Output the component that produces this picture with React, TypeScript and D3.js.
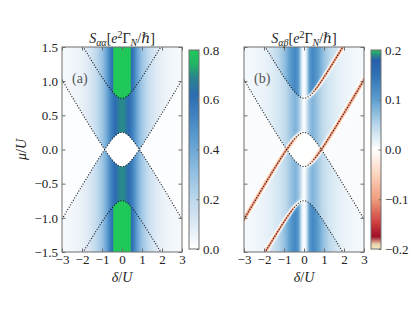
import React, { useEffect, useRef } from "react";
import * as d3 from "d3";

const deltaTicks = [-3, -2, -1, 0, 1, 2, 3];
const muTicks = [-1.5, -1.0, -0.5, 0.0, 0.5, 1.0, 1.5];
const saaTicks = [0.0, 0.2, 0.4, 0.6, 0.8];
const sabTicks = [-0.2, -0.1, 0.0, 0.1, 0.2];

// level lines: mu = shift + branch * sqrt((delta/2)^2 + gap^2)
const levelShifts = [0.5, -0.5];
const levelBranches = [1, -1];
const levelGap = 0.25;

// profiles read across |delta| for each region
const profileDelta = [0, 0.1, 0.2, 0.3, 0.42, 0.45, 0.6, 0.8, 1.0, 1.3, 1.6, 2.0, 2.5, 3.0];
const saaInside = [1.0, 1.0, 0.98, 0.95, 0.9, 0.63, 0.55, 0.4, 0.29, 0.19, 0.12, 0.075, 0.045, 0.03];
const saaBetween = [0.7, 0.69, 0.66, 0.62, 0.6, 0.58, 0.5, 0.37, 0.27, 0.17, 0.11, 0.065, 0.04, 0.025];
const saaOutside = 0.01;
const sabInside = [0.0, 0.02, 0.07, 0.11, 0.125, 0.125, 0.113, 0.09, 0.068, 0.047, 0.033, 0.022, 0.014, 0.01];
const sabBetween = [0.0, 0.02, 0.05, 0.07, 0.08, 0.08, 0.07, 0.055, 0.042, 0.03, 0.022, 0.015, 0.01, 0.007];
const sabOutside = 0.004;
const sabLineDip = -0.115;

const saaStops = [0, 0.1, 0.2, 0.3, 0.4, 0.5, 0.62, 0.69, 0.74, 0.8];
const saaColors = ["#ffffff", "#dde9f4", "#bcd7ec", "#96c1e2", "#6ea8d6", "#4a8dc6", "#2c6db2", "#2a848f", "#22b266", "#20c85a"];
const sabStops = [-0.2, -0.19, -0.175, -0.15, -0.1, -0.05, 0, 0.05, 0.1, 0.15, 0.18, 0.19, 0.2];
const sabColors = ["#f2ebc4", "#e8cfa8", "#a0102a", "#cc3a3c", "#f09c7c", "#fbd5bf", "#ffffff", "#b8d6ea", "#5e9fd0", "#2f72b4", "#2660aa", "#2a8a86", "#22c55e"];

const PW = 120, PH = 205, TOP = 47;
const panels = [
  { key: "a", left: 62, label: "(a)", sub: "αα", ticks: saaTicks, domain: [0, 0.8] },
  { key: "b", left: 244, label: "(b)", sub: "αβ", ticks: sabTicks, domain: [-0.2, 0.2] },
];

const xs = d3.scaleLinear().domain([-3, 3]).range([0, PW]);
const ys = d3.scaleLinear().domain([-1.5, 1.5]).range([PH, 0]);

const prof = (vals: number[]) => d3.scaleLinear().domain(profileDelta).range(vals).clamp(true);
const pSaaIn = prof(saaInside), pSaaBet = prof(saaBetween);
const pSabIn = prof(sabInside), pSabBet = prof(sabBetween);

const shift = levelShifts[0];
const root = (d: number) => Math.sqrt((d / 2) ** 2 + levelGap ** 2);
const region = (d: number, mu: number) => {
  const s = root(d), m = Math.abs(mu);
  if (m > shift + s) return 0;
  if (m > Math.abs(s - shift)) return 1;
  return s < shift ? 3 : 2;
};

const saaValue = (d: number, mu: number) => {
  const r = region(d, mu), a = Math.abs(d);
  if (r === 0) return pSaaIn(a);
  if (r === 1) return pSaaBet(a);
  return r === 2 ? saaOutside : 0;
};

const pxMu = PH / 3, pxDelta = PW / 6;
const sabValue = (d: number, mu: number) => {
  const r = region(d, mu), a = Math.abs(d);
  const v = r === 0 ? pSabIn(a) : r === 1 ? pSabBet(a) : r === 2 ? sabOutside : 0;
  const s = root(d);
  let g = 0;
  levelShifts.forEach((sh) => levelBranches.forEach((b) => {
    if (b * d <= 0) return;
    const mb = sh + b * s;
    const slope = ((b * d) / (4 * s)) * (pxMu / pxDelta);
    const dist = (Math.abs(mu - mb) * pxMu) / Math.sqrt(1 + slope * slope);
    const fade = Math.min(1, a / 0.6);
    g = Math.max(g, fade * Math.exp(-(dist * dist) / (2 * 1.2 * 1.2)));
  }));
  return v * (1 - g) + sabLineDip * g;
};

function fieldImage(value: (d: number, mu: number) => number, stops: number[], colors: string[]) {
  const cs = d3.scaleLinear<string>().domain(stops).range(colors).clamp(true);
  const lo = stops[0], hi = stops[stops.length - 1];
  const lut = d3.range(512).map((i) => d3.rgb(cs(lo + ((hi - lo) * i) / 511)));
  const canvas = document.createElement("canvas");
  canvas.width = PW; canvas.height = PH;
  const ctx = canvas.getContext("2d")!;
  const img = ctx.createImageData(PW, PH);
  const n = 3;
  for (let j = 0; j < PH; j++) {
    for (let i = 0; i < PW; i++) {
      let r = 0, g = 0, b = 0;
      for (let u = 0; u < n; u++) for (let w = 0; w < n; w++) {
        const v = value(xs.invert(i + (u + 0.5) / n), ys.invert(j + (w + 0.5) / n));
        const k = Math.max(0, Math.min(511, Math.round(((v - lo) / (hi - lo)) * 511)));
        r += lut[k].r; g += lut[k].g; b += lut[k].b;
      }
      const o = (j * PW + i) * 4;
      img.data[o] = r / (n * n); img.data[o + 1] = g / (n * n); img.data[o + 2] = b / (n * n); img.data[o + 3] = 255;
    }
  }
  ctx.putImageData(img, 0, 0);
  return canvas.toDataURL();
}

function colorbarImage(stops: number[], colors: string[]) {
  const cs = d3.scaleLinear<string>().domain(stops).range(colors);
  const canvas = document.createElement("canvas");
  canvas.width = 1; canvas.height = 400;
  const ctx = canvas.getContext("2d")!;
  const lo = stops[0], hi = stops[stops.length - 1];
  for (let j = 0; j < 400; j++) {
    ctx.fillStyle = cs(hi - ((hi - lo) * (j + 0.5)) / 400);
    ctx.fillRect(0, j, 1, 1);
  }
  return canvas.toDataURL();
}

const font = "'Liberation Serif', 'DejaVu Serif', serif";

export default function App() {
  const ref = useRef<SVGSVGElement>(null);

  useEffect(() => {
    const svg = d3.select(ref.current);
    svg.selectAll("*").remove();
    const grey = "#6e6e6e";

    panels.forEach((p) => {
      const g = svg.append("g").attr("transform", `translate(${p.left},${TOP})`);
      const clipId = `clip-${p.key}`;
      g.append("clipPath").attr("id", clipId).append("rect").attr("width", PW).attr("height", PH);

      const href = p.key === "a" ? fieldImage(saaValue, saaStops, saaColors) : fieldImage(sabValue, sabStops, sabColors);
      g.append("image").attr("href", href).attr("width", PW).attr("height", PH).attr("preserveAspectRatio", "none");

      // dotted level lines
      const line = d3.line<[number, number]>().x((d) => xs(d[0])).y((d) => ys(d[1]));
      const dGrid = d3.range(-3, 3.0001, 0.01);
      levelShifts.forEach((sh) => levelBranches.forEach((b) => {
        const pts = dGrid.map((d) => [d, sh + b * root(d)] as [number, number]);
        g.append("path").attr("d", line(pts)).attr("fill", "none").attr("stroke", "#111")
          .attr("stroke-width", 1.1).attr("stroke-dasharray", "1 1.7").attr("clip-path", `url(#${clipId})`);
      }));

      // axes with inward ticks
      const ax = (a: any, tr: string, labels: boolean) => {
        const sel = g.append("g").attr("transform", tr).call(a);
        sel.attr("font-family", null).attr("font-size", null);
        sel.select(".domain").remove();
        sel.selectAll("line").attr("stroke", grey);
        sel.selectAll("text").style("font-family", font).style("font-size", "13px").attr("fill", "#222");
        if (!labels) sel.selectAll("text").remove();
        return sel;
      };
      ax(d3.axisBottom(xs).tickValues(deltaTicks).tickSize(-3.5).tickPadding(3).tickFormat(d3.format("d") as any), `translate(0,${PH})`, true);
      ax(d3.axisTop(xs).tickValues(deltaTicks).tickSize(-3.5), "translate(0,0)", false);
      ax(d3.axisLeft(ys).tickValues(muTicks).tickSize(-3.5).tickPadding(4).tickFormat(d3.format(".1f") as any), "translate(0,0)", p.key === "a");
      ax(d3.axisRight(ys).tickValues(muTicks).tickSize(-3.5), `translate(${PW},0)`, false);

      g.append("rect").attr("width", PW).attr("height", PH).attr("fill", "none").attr("stroke", grey).attr("stroke-width", 1);

      g.append("text").attr("x", 10).attr("y", 36).style("font-family", font).style("font-size", "14px").attr("fill", "#555").text(p.label);

      const t = g.append("text").attr("x", PW / 2).attr("y", -4).attr("text-anchor", "middle").style("font-family", font).style("font-size", "14px").attr("fill", "#222");
      t.append("tspan").attr("font-style", "italic").text("S");
      t.append("tspan").attr("font-style", "italic").style("font-size", "10px").attr("dy", 3).text(p.sub);
      t.append("tspan").attr("dy", -3).text("[");
      t.append("tspan").attr("font-style", "italic").text("e");
      t.append("tspan").style("font-size", "10px").attr("dy", -5).text("2");
      t.append("tspan").attr("dy", 5).text("Γ");
      t.append("tspan").attr("font-style", "italic").style("font-size", "10px").attr("dy", 3).text("N");
      t.append("tspan").attr("dy", -3).text("/ℏ]");

      const xl = g.append("text").attr("x", PW / 2).attr("y", PH + 30).attr("text-anchor", "middle").style("font-family", font).style("font-size", "14px").attr("fill", "#222");
      xl.append("tspan").attr("font-style", "italic").text("δ");
      xl.append("tspan").text("/");
      xl.append("tspan").attr("font-style", "italic").text("U");

      // colorbar
      const cbX = PW + 7, cbTop = 3, cbH = 199, cbW = 10;
      const cg = g.append("g").attr("transform", `translate(${cbX},${cbTop})`);
      const stops = p.key === "a" ? saaStops : sabStops;
      const colors = p.key === "a" ? saaColors : sabColors;
      cg.append("image").attr("href", colorbarImage(stops, colors)).attr("width", cbW).attr("height", cbH).attr("preserveAspectRatio", "none");
      const cy = d3.scaleLinear().domain(p.domain).range([cbH, 0]);
      const cax = cg.append("g").attr("transform", `translate(${cbW},0)`)
        .call(d3.axisRight(cy).tickValues(p.ticks).tickSize(-2.5).tickPadding(4).tickFormat(d3.format(".1f") as any));
      cax.attr("font-family", null).attr("font-size", null);
      cax.select(".domain").remove();
      cax.selectAll("line").attr("stroke", grey);
      cax.selectAll("text").style("font-family", font).style("font-size", "13px").attr("fill", "#222");
      cg.append("rect").attr("width", cbW).attr("height", cbH).attr("fill", "none").attr("stroke", grey).attr("stroke-width", 1);
    });

    const yl = svg.append("text").attr("transform", `translate(26,${TOP + PH / 2}) rotate(-90)`).attr("text-anchor", "middle")
      .style("font-family", font).style("font-size", "14px").attr("fill", "#222");
    yl.append("tspan").attr("font-style", "italic").text("μ");
    yl.append("tspan").text("/");
    yl.append("tspan").attr("font-style", "italic").text("U");
  }, []);

  return <svg ref={ref} width={415} height={312} style={{ position: "absolute", left: 0, top: 0, background: "#fff", fontFamily: font }} />;
}
